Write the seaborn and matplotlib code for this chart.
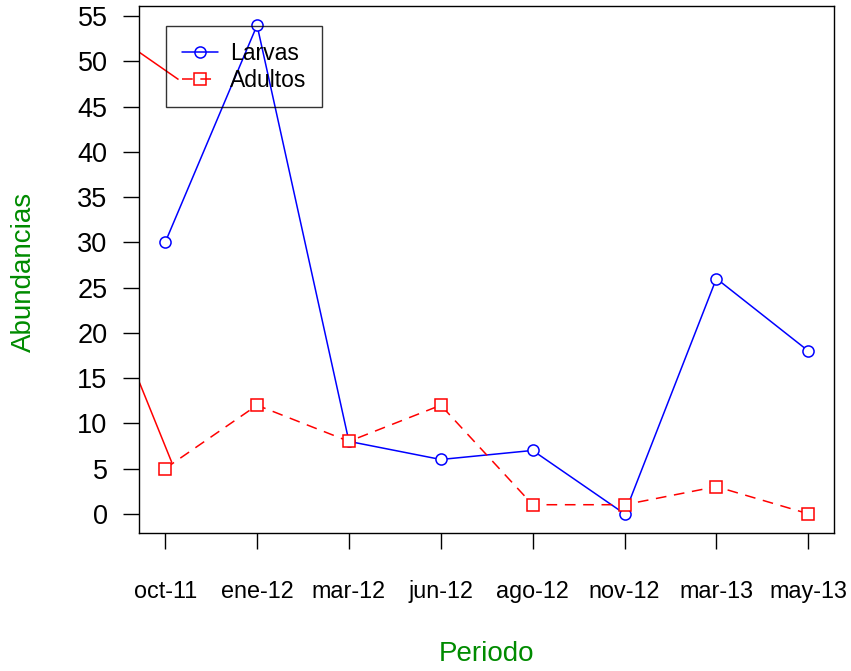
import numpy as np
import pandas as pd
import matplotlib
matplotlib.use("Agg")
import matplotlib.pyplot as plt
import seaborn as sns
from matplotlib.lines import Line2D

# ---- data ----
periodo = ["oct-11", "ene-12", "mar-12", "jun-12", "ago-12", "nov-12", "mar-13", "may-13"]
larvas = [30, 54, 8, 6, 7, 0, 26, 18]
adultos = [5, 12, 8, 12, 1, 1, 3, 0]
y_ticks = [0, 5, 10, 15, 20, 25, 30, 35, 40, 45, 50, 55]
# stray solid red segments visible in the reference (data coords)
stray_x0 = [0.72, 0.72]
stray_y0 = [14.5, 51.0]
stray_x1 = [1.073, 1.145]
stray_y1 = [5.64, 48.0]

sns.set_style("white")
plt.rcParams["font.family"] = ["Liberation Sans", "DejaVu Sans"]
plt.rcParams["text.color"] = "black"
plt.rcParams["xtick.color"] = "black"
plt.rcParams["ytick.color"] = "black"

x = np.arange(1, len(periodo) + 1)
df = pd.DataFrame({"x": x, "Larvas": larvas, "Adultos": adultos})

fig = plt.figure(figsize=(8.51, 6.71), dpi=100)
ax = fig.add_axes([0.1639, 0.2052, 0.8161, 0.7863])

# stray segments
for a, b, c, d in zip(stray_x0, stray_y0, stray_x1, stray_y1):
    ax.plot([a, c], [b, d], color="red", lw=1.1, solid_capstyle="butt", zorder=2)

sns.lineplot(data=df, x="x", y="Larvas", ax=ax, color="blue", lw=1.1,
             marker="o", markersize=8, markerfacecolor="white",
             markeredgecolor="blue", markeredgewidth=1.1, zorder=3)
sns.lineplot(data=df, x="x", y="Adultos", ax=ax, color="red", lw=1.1,
             linestyle=(0, (7, 5)), marker="s", markersize=8.5,
             markerfacecolor="white", markeredgecolor="red",
             markeredgewidth=1.1, zorder=3)

ax.set_xlim(0.72, 8.28)
ax.set_ylim(-2.16, 56.16)
ax.set_xticks(x)
ax.set_xticklabels(periodo, fontsize=16.8, color="black")
ax.set_yticks(y_ticks)
ax.set_yticklabels([str(v) for v in y_ticks], fontsize=19.5, color="black")
ax.tick_params(axis="x", which="major", bottom=True, direction="out",
               length=11.5, width=1, color="black", pad=22)
ax.tick_params(axis="y", which="major", left=True, direction="out",
               length=11.5, width=1, color="black", pad=11.5)

for s in ax.spines.values():
    s.set_visible(True)
    s.set_color("black")
    s.set_linewidth(1.0)

green = "#008B00"
ax.set_xlabel("Periodo", fontsize=20, color=green, va="center")
ax.set_ylabel("Abundancias", fontsize=20, color=green, va="center")
ax.xaxis.set_label_coords(0.5, -0.228)
ax.yaxis.set_label_coords(-0.1669, 0.4958)

handles = [
    Line2D([], [], color="blue", lw=1.1, marker="o", markersize=8,
           markerfacecolor="none", markeredgecolor="blue", markeredgewidth=1.1),
    Line2D([], [], color="red", lw=1.1, linestyle=(0, (7, 5)), marker="s",
           markersize=8.5, markerfacecolor="none", markeredgecolor="red",
           markeredgewidth=1.1),
]
leg = ax.legend(handles, ["Larvas", "Adultos"], loc="upper left",
                bbox_to_anchor=(0.0382, 0.9615), borderaxespad=0,
                fontsize=16.5, frameon=True, fancybox=False,
                facecolor="none", edgecolor="black", framealpha=None,
                borderpad=0.68, handlelength=1.6, handletextpad=0.5,
                labelspacing=0.18)
leg.get_frame().set_linewidth(1.0)
for t in leg.get_texts():
    t.set_color("black")

fig.savefig("out.png", dpi=100)
